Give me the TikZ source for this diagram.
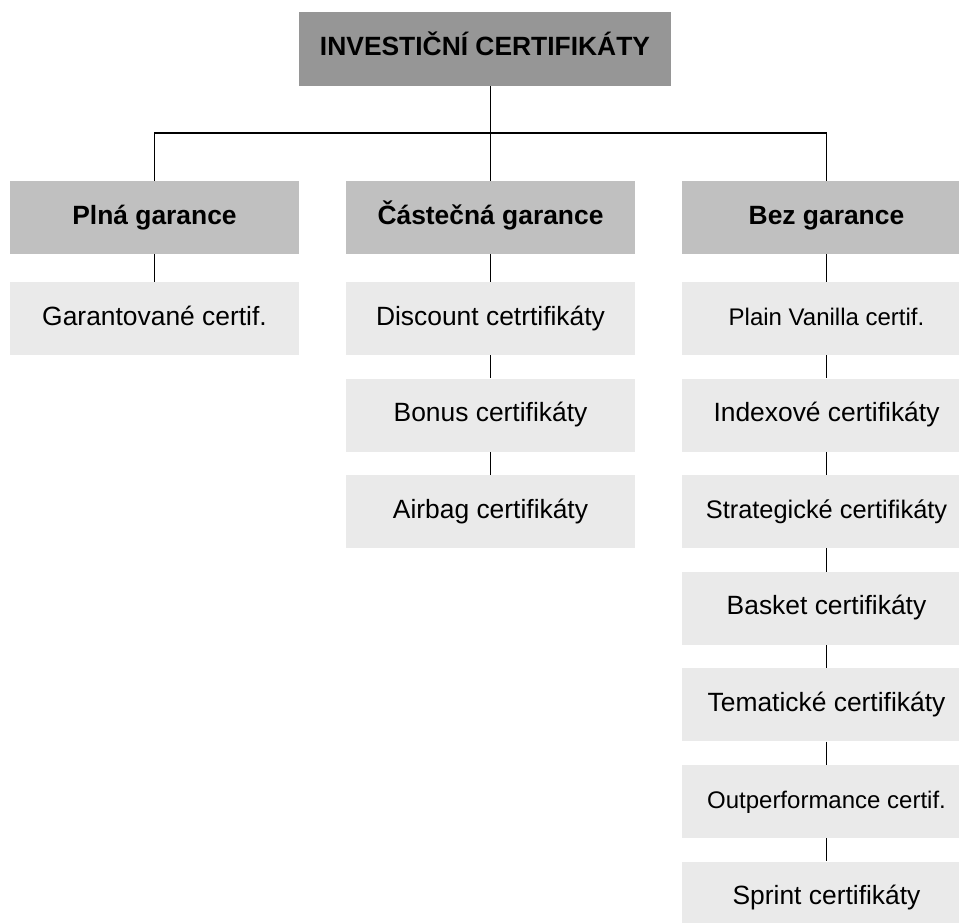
\documentclass[tikz,border=0pt]{standalone}
\usepackage{fontspec}
\setmainfont{Liberation Sans}
\usepackage{tikz}
\usetikzlibrary{positioning}

\definecolor{topgray}{HTML}{969696}
\definecolor{groupgray}{HTML}{C0C0C0}
\definecolor{itemgray}{HTML}{EAEAEA}

\begin{document}
\begin{tikzpicture}[x=1pt, y=-1pt,
    box/.style={inner sep=0pt, minimum width=289pt, minimum height=73pt, align=center, text height=19pt, text depth=6pt},
    topbox/.style={box, fill=topgray, minimum width=372pt, minimum height=74pt, font=\fontsize{26.4}{30}\selectfont\bfseries},
    groupbox/.style={box, fill=groupgray, font=\fontsize{26.4}{30}\selectfont\bfseries},
    itembox/.style={box, fill=itemgray, font=\fontsize{26.4}{30}\selectfont},
    link/.style={draw=black, line width=1.5pt}]
    \useasboundingbox (0,0) rectangle (959,922);
    \clip (0,0) rectangle (959,922);

    \node[topbox] (top) at (485,49) {INVESTIČNÍ CERTIFIKÁTY};

    \node[groupbox] (full) at (154.5,217.5) {Plná garance};
    \node[groupbox] (part) at (490.5,217.5) {Částečná garance};
    \node[groupbox] (none) at (826.5,217.5) {Bez garance};

    \coordinate (bus) at (490.5,133);
    \draw[link] (top.south -| part.north) -- (part.north);
    \draw[link] (full.north) |- (bus) -| (none.north);

    % plna garance
    \node[itembox] (full1) at (154.5,318.5) {Garantované certif.};
    \draw[link] (full) -- (full1);

    % castecna garance
    \node[itembox] (part1) at (490.5,318.5) {Discount cetrtifikáty};
    \node[itembox, below=23.2pt of part1] (part2) {Bonus certifikáty};
    \node[itembox, below=23.2pt of part2] (part3) {Airbag certifikáty};
    \draw[link] (part) -- (part1);
    \draw[link] (part1) -- (part2);
    \draw[link] (part2) -- (part3);

    % bez garance
    \node[itembox, font=\fontsize{24}{28}\selectfont] (none1) at (826.5,318.5) {Plain Vanilla certif.};
    \node[itembox, below=23.2pt of none1] (none2) {Indexové certifikáty};
    \node[itembox, below=23.2pt of none2, font=\fontsize{25.4}{29}\selectfont] (none3) {Strategické certifikáty};
    \node[itembox, below=23.2pt of none3] (none4) {Basket certifikáty};
    \node[itembox, below=23.2pt of none4] (none5) {Tematické certifikáty};
    \node[itembox, below=23.2pt of none5, font=\fontsize{24}{28}\selectfont] (none6) {Outperformance certif.};
    \node[itembox, below=23.2pt of none6] (none7) {Sprint certifikáty};
    \draw[link] (none) -- (none1);
    \foreach \a/\b in {1/2,2/3,3/4,4/5,5/6,6/7}
        \draw[link] (none\a) -- (none\b);
\end{tikzpicture}
\end{document}
